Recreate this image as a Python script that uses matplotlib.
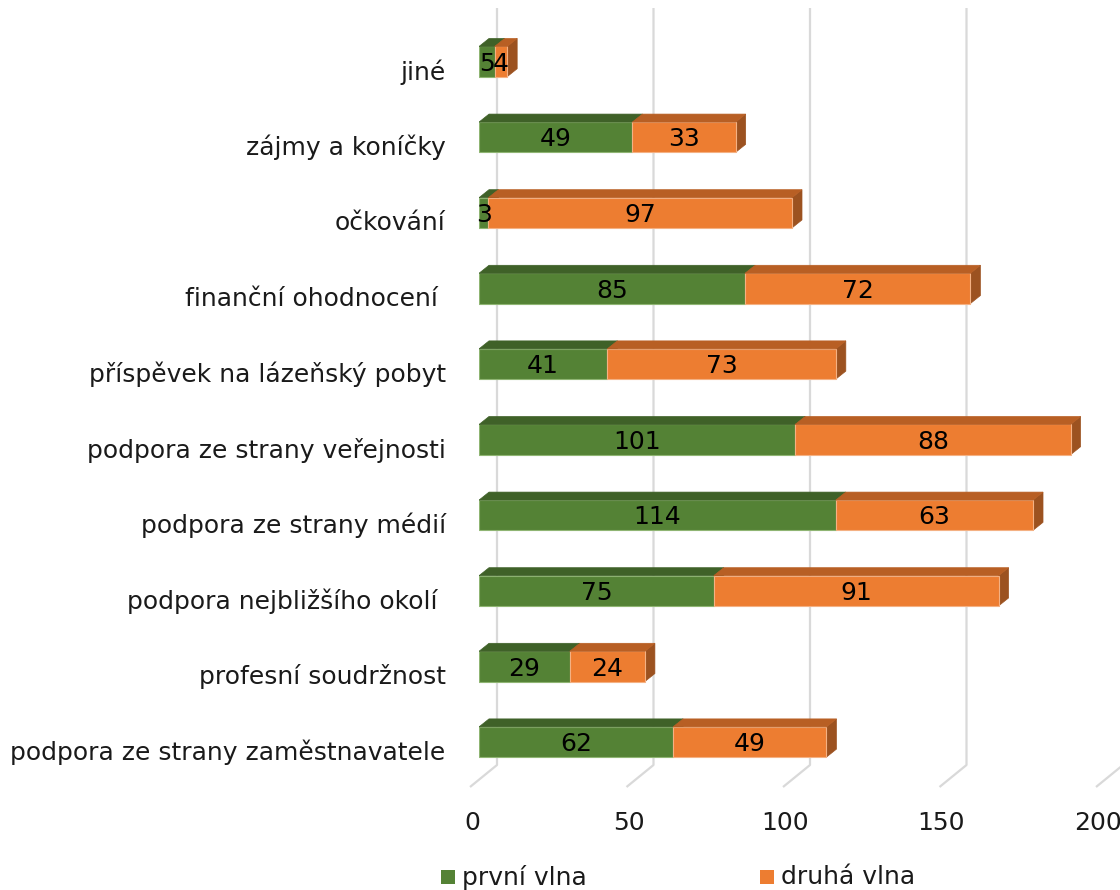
import matplotlib
matplotlib.use("Agg")
import matplotlib.pyplot as plt
from matplotlib.patches import Polygon, Rectangle
from matplotlib.transforms import ScaledTranslation

# ---- data ----
categories = ["podpora ze strany zaměstnavatele", "profesní soudržnost",
              "podpora nejbližšího okolí ", "podpora ze strany médií",
              "podpora ze strany veřejnosti", "příspěvek na lázeňský pobyt",
              "finanční ohodnocení ", "očkování", "zájmy a koníčky", "jiné"]
prvni_vlna = [62, 29, 75, 114, 101, 41, 85, 3, 49, 5]
druha_vlna = [49, 24, 91, 63, 88, 73, 72, 97, 33, 4]
series_names = ["první vlna", "druhá vlna"]
x_ticks = [0, 50, 100, 150, 200]

# ---- style ----
FONT = "DejaVu Sans"
plt.rcParams["font.family"] = [FONT]
FS = 18
front_cols = ["#548235", "#ed7d31"]
top_cols = ["#3f6128", "#b85f24"]
side_cols = ["#3a5a24", "#9c5220"]
edge_cols = ["#8fb573", "#f4b183"]
grid_col = "#d9d9d9"
txt_col = "#1a1a1a"

W, H = 1120, 890
fig = plt.figure(figsize=(W / 100, H / 100), dpi=100)
ax = fig.add_axes([479 / W, 125 / H, 626 / W, 757 / H])
ax.set_xlim(0, 200)
ax.set_ylim(-0.304, 9.709)
for s in ax.spines.values():
    s.set_visible(False)

PX_X = 626 / 200.0          # pixels per value unit
PX_Y = 757 / 10.013         # pixels per category unit
dx = 10 / PX_X              # 3D depth, x
dy = 8 / PX_Y               # 3D depth, y
bh = 0.40                   # bar height
back_off = 18 / PX_X
front_off = -9 / PX_X
diag_drop = 22 / PX_Y
y0, y1 = ax.get_ylim()

# gridlines (back wall + floor diagonal)
for v in x_ticks:
    ax.plot([v + back_off, v + back_off, v + front_off],
            [y1, y0, y0 - diag_drop], color=grid_col, lw=1.6,
            clip_on=False, zorder=1, solid_capstyle="butt")

# 3D stacked bars
for i, cat in enumerate(categories):
    left = 0
    for s, vals in enumerate([prvni_vlna, druha_vlna]):
        w = vals[i]
        yb, yt = i - bh / 2, i + bh / 2
        front = Rectangle((left, yb), w, bh, facecolor=front_cols[s],
                          edgecolor=edge_cols[s], lw=0.8, zorder=3)
        top = Polygon([(left, yt), (left + w, yt), (left + w + dx, yt + dy),
                       (left + dx, yt + dy)], closed=True,
                      facecolor=top_cols[s], edgecolor=top_cols[s], lw=0.5, zorder=3)
        side = Polygon([(left + w, yb), (left + w + dx, yb + dy),
                        (left + w + dx, yt + dy), (left + w, yt)], closed=True,
                       facecolor=side_cols[s], edgecolor=side_cols[s], lw=0.5, zorder=3)
        ax.add_patch(side)
        ax.add_patch(front)
        ax.add_patch(top)
        ax.text(left + w / 2, i - 0.03, str(w), ha="center", va="center",
                fontsize=FS, color="black", zorder=5)
        left += w

# category labels
ax.set_yticks([i - dy for i in range(len(categories))])
ax.set_yticklabels(categories, fontsize=FS, color=txt_col)
ax.tick_params(axis="y", length=0, pad=24)

# x tick labels at front floor
ax.set_xticks(x_ticks)
ax.set_xticklabels([str(t) for t in x_ticks], fontsize=FS, color=txt_col)
ax.tick_params(axis="x", length=0, pad=33)
for lbl in ax.get_xticklabels():
    lbl.set_transform(lbl.get_transform() + ScaledTranslation(-0.07, 0, fig.dpi_scale_trans))

# legend
leg_x = [441, 760]
for s, name in enumerate(series_names):
    fig.add_artist(Rectangle((leg_x[s] / W, (H - 884) / H), 14 / W, 14 / H,
                             transform=fig.transFigure, facecolor=front_cols[s],
                             edgecolor="none"))
    fig.text((leg_x[s] + 21) / W, (H - 877) / H, name, fontsize=FS,
             color=txt_col, va="center", ha="left")

fig.savefig("out.png", dpi=100)
